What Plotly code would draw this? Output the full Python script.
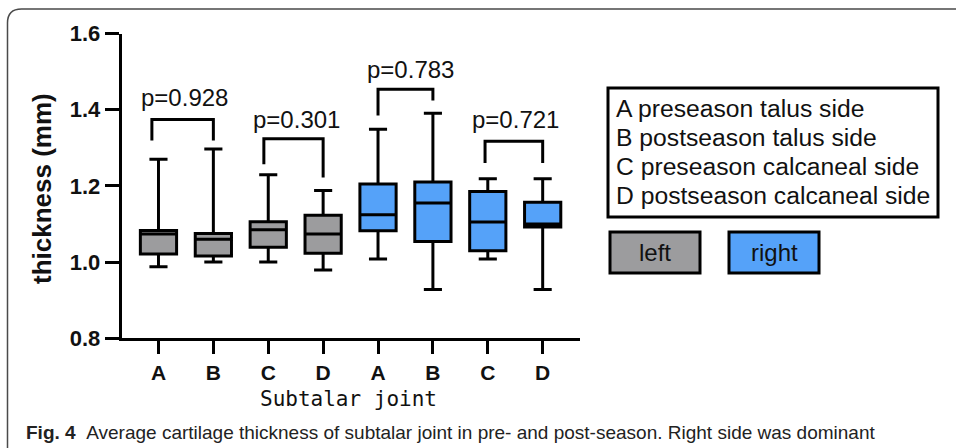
import plotly.graph_objects as go

W, H = 956, 448

# ---- data ----
categories = ["A", "B", "C", "D", "A", "B", "C", "D"]
left_x = [0, 1, 2, 3]
right_x = [4, 5, 6, 7]

left_lower = [0.988, 1.000, 1.000, 0.979]
left_q1 = [1.021, 1.016, 1.039, 1.023]
left_median = [1.074, 1.060, 1.085, 1.074]
left_q3 = [1.083, 1.075, 1.106, 1.123]
left_upper = [1.270, 1.297, 1.229, 1.188]

right_lower = [1.008, 0.928, 1.008, 0.928]
right_q1 = [1.082, 1.054, 1.030, 1.092]
right_median = [1.124, 1.155, 1.105, 1.100]
right_q3 = [1.205, 1.210, 1.185, 1.157]
right_upper = [1.349, 1.391, 1.219, 1.219]

p_labels = ["p=0.928", "p=0.301", "p=0.783", "p=0.721"]
bracket_x0 = [-0.12, 1.92, 4.0, 5.95]
bracket_x1 = [1.0, 3.0, 5.0, 7.0]
bracket_top = [1.374, 1.324, 1.454, 1.317]
bracket_left_end = [1.319, 1.257, 1.385, 1.260]
bracket_right_end = [1.319, 1.222, 1.424, 1.260]
p_label_x = [0.47, 2.52, 4.585, 6.51]
p_label_y = [1.433, 1.373, 1.505, 1.373]

legend_lines = ["A preseason talus side", "B postseason talus side",
                "C preseason calcaneal side", "D postseason calcaneal side"]
y_ticks = [0.8, 1.0, 1.2, 1.4, 1.6]
y_tick_text = ["0.8", "1.0", "1.2", "1.4", "1.6"]

GRAY = "#9c9c9e"
BLUE = "#55a2f9"


def px(x):
    return x / W


def py(y):
    return 1 - y / H


fig = go.Figure()
fig.add_trace(go.Box(x=left_x, q1=left_q1, median=left_median, q3=left_q3,
                     lowerfence=left_lower, upperfence=left_upper,
                     fillcolor=GRAY, line=dict(color="black", width=3),
                     width=0.66, whiskerwidth=0.5, boxpoints=False,
                     name="left", showlegend=False, hoverinfo="skip"))
fig.add_trace(go.Box(x=right_x, q1=right_q1, median=right_median, q3=right_q3,
                     lowerfence=right_lower, upperfence=right_upper,
                     fillcolor=BLUE, line=dict(color="black", width=3),
                     width=0.66, whiskerwidth=0.5, boxpoints=False,
                     name="right", showlegend=False, hoverinfo="skip"))

shapes = []
annotations = []
for i in range(len(p_labels)):
    path = (f"M {bracket_x0[i]} {bracket_left_end[i]} L {bracket_x0[i]} {bracket_top[i]} "
            f"L {bracket_x1[i]} {bracket_top[i]} L {bracket_x1[i]} {bracket_right_end[i]}")
    shapes.append(dict(type="path", xref="x", yref="y", path=path,
                       line=dict(color="black", width=3)))
    annotations.append(dict(x=p_label_x[i], y=p_label_y[i], xref="x", yref="y",
                            text=p_labels[i], showarrow=False, xanchor="center",
                            yanchor="middle",
                            font=dict(family="Liberation Sans, Arial", size=24, color="#111")))

# outer panel frame (rounded corner)
r = 14
fx, fy = 7.5, 9
frame = (f"M {px(fx)} {py(470)} L {px(fx)} {py(fy + r)} "
         f"Q {px(fx)} {py(fy)} {px(fx + r)} {py(fy)} L {px(970)} {py(fy)}")
shapes.append(dict(type="path", xref="paper", yref="paper", path=frame,
                   line=dict(color="#4a4a4a", width=1.5)))

# legend boxes
shapes.append(dict(type="rect", xref="paper", yref="paper",
                   x0=px(608), x1=px(938), y0=py(217), y1=py(88),
                   line=dict(color="black", width=3), fillcolor="white"))
shapes.append(dict(type="rect", xref="paper", yref="paper",
                   x0=px(610), x1=px(700), y0=py(273), y1=py(232),
                   line=dict(color="black", width=3), fillcolor=GRAY))
shapes.append(dict(type="rect", xref="paper", yref="paper",
                   x0=px(729), x1=px(819), y0=py(273), y1=py(232),
                   line=dict(color="black", width=3), fillcolor=BLUE))

legend_y = [108, 137, 166, 195]
for t, yy in zip(legend_lines, legend_y):
    annotations.append(dict(x=px(614), y=py(yy), xref="paper", yref="paper",
                            text=t, showarrow=False, xanchor="left", yanchor="middle",
                            font=dict(family="Liberation Sans, Arial", size=24.7, color="#111")))
annotations.append(dict(x=px(655), y=py(252), xref="paper", yref="paper", text="left",
                        showarrow=False, xanchor="center", yanchor="middle",
                        font=dict(family="Liberation Sans, Arial", size=24, color="#111")))
annotations.append(dict(x=px(774), y=py(252), xref="paper", yref="paper", text="right",
                        showarrow=False, xanchor="center", yanchor="middle",
                        font=dict(family="Liberation Sans, Arial", size=24, color="#111")))

# axis titles
annotations.append(dict(x=px(42), y=py(189), xref="paper", yref="paper",
                        text="<b>thickness (mm)</b>", textangle=-90, showarrow=False,
                        xanchor="center", yanchor="middle",
                        font=dict(family="Liberation Sans, Arial", size=26, color="#111")))
annotations.append(dict(x=px(348), y=py(399), xref="paper", yref="paper",
                        text="Subtalar joint", showarrow=False,
                        xanchor="center", yanchor="middle",
                        font=dict(family="DejaVu Sans Mono", size=21, color="#111")))

# caption
annotations.append(dict(x=px(24), y=py(432), xref="paper", yref="paper",
                        text="<b>Fig. 4</b>\u00a0\u00a0Average cartilage thickness of subtalar joint in pre- and post-season. Right side was dominant",
                        showarrow=False, xanchor="left", yanchor="middle",
                        font=dict(family="Liberation Sans Narrow, Liberation Sans", size=19, color="#222")))

fig.update_layout(
    template="none",
    width=W, height=H, autosize=False,
    margin=dict(l=0, r=0, t=0, b=0, pad=0, autoexpand=False),
    paper_bgcolor="white", plot_bgcolor="white",
    boxmode="overlay", showlegend=False,
    shapes=shapes, annotations=annotations,
    xaxis=dict(domain=[px(121.7), px(580)], range=[-0.67, 7.68], automargin=False,
               tickvals=list(range(8)), ticktext=[f"<b>{c}</b>" for c in categories],
               tickfont=dict(family="Liberation Sans, Arial", size=21, color="#111"),
               showline=True, linecolor="black", linewidth=3,
               ticks="outside", ticklen=13, tickwidth=3, tickcolor="black",
               showgrid=False, zeroline=False, fixedrange=True),
    yaxis=dict(domain=[py(338.3), py(33.5)], range=[0.8, 1.6], automargin=False,
               tickvals=y_ticks, ticktext=[f"<b>{t}</b>" for t in y_tick_text],
               tickfont=dict(family="Liberation Sans, Arial", size=22, color="#111"),
               showline=True, linecolor="black", linewidth=3,
               ticks="outside", ticklen=14, tickwidth=3, tickcolor="black",
               showgrid=False, zeroline=False, fixedrange=True),
)

fig.write_html("out.html", config={"displayModeBar": False, "responsive": False},
               post_script="document.body.style.margin='0';document.body.style.overflow='hidden';")
